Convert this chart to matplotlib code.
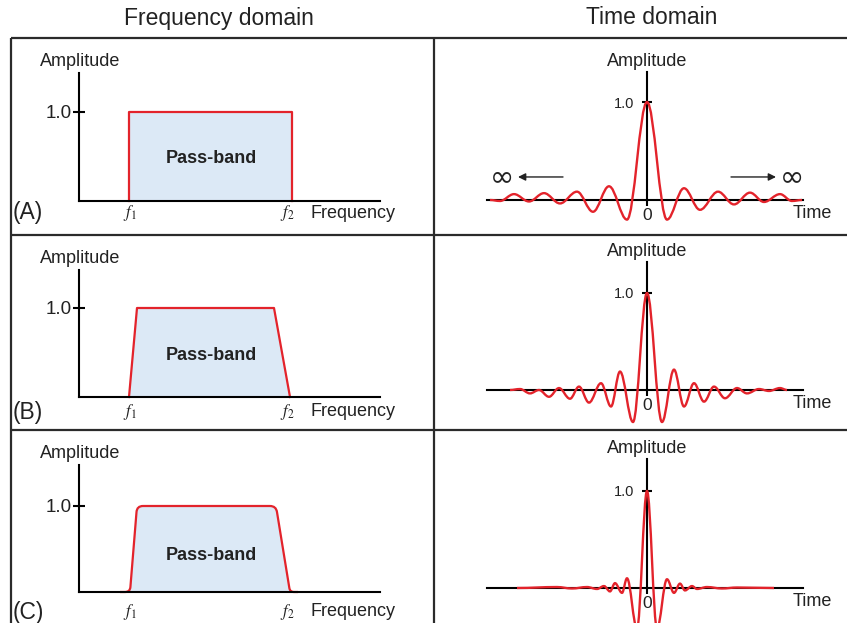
import numpy as np
import matplotlib
matplotlib.use("Agg")
import matplotlib.pyplot as plt
from matplotlib.path import Path
from matplotlib.patches import PathPatch

plt.rcParams['font.family'] = ['Liberation Sans', 'DejaVu Sans']

RED = '#e3232b'
BLUE = '#dce9f6'
INK = '#222222'
W, H = 847, 623

# pass-band shapes: frequency (f1 = 2) and amplitude at each corner
f1, f2 = 2.0, 8.5
freq_a_f = [2.0, 2.0, 8.5, 8.5]
freq_a_amp = [0, 1, 1, 0]
freq_b_f = [2.0, 2.32, 7.8, 8.44]
freq_b_amp = [0, 1, 1, 0]
freq_c_f = [1.64, 2.04, 2.32, 7.88, 8.44, 8.76]
freq_c_amp = [0, 0, 1, 1, 0, 0]

# impulse responses: time of each lobe extremum and its amplitude
time_a_t = [-15.7, -14.7, -13.3, -11.8, -10.3, -8.7, -7.0, -5.4, -3.8, -2.0, 0.0,
            2.0, 3.7, 5.3, 7.1, 8.7, 10.3, 11.7, 13.3, 14.5, 15.5]
time_a_amp = [0.0, -0.01, 0.06, -0.015, 0.07, -0.035, 0.085, -0.12, 0.14, -0.20, 1.0,
              -0.20, 0.12, -0.10, 0.085, -0.045, 0.075, -0.02, 0.06, -0.01, 0.0]

time_b_t = [-13.7, -12.7, -11.7, -10.8, -9.8, -8.8, -7.7, -6.8, -5.8, -4.6, -3.6, -2.7, -1.4, 0.0,
            1.5, 2.7, 3.7, 4.7, 5.7, 6.7, 7.8, 9.0, 10.0, 11.2, 12.2, 13.3, 14.0]
time_b_amp = [0.0, 0.01, -0.035, 0.0, -0.07, 0.02, -0.09, 0.035, -0.13, 0.07, -0.17, 0.19, -0.33, 1.0,
              -0.33, 0.21, -0.17, 0.07, -0.12, 0.035, -0.085, 0.02, -0.035, 0.01, -0.01, 0.02, 0.0]

time_c_t = [-13.0, -9.0, -7.5, -6.0, -5.0, -4.3, -3.7, -3.2, -2.5, -2.0, -1.0, 0.0,
            1.0, 2.0, 2.7, 3.3, 3.8, 4.5, 5.0, 6.0, 7.5, 9.0, 12.7]
time_c_amp = [0.0, 0.01, -0.005, 0.01, -0.01, 0.02, -0.035, 0.05, -0.05, 0.10, -0.42, 1.0,
              -0.42, 0.09, -0.05, 0.045, -0.025, 0.02, -0.01, 0.01, -0.005, 0.005, 0.0]

row_labels = ['(A)', '(B)', '(C)']

# row layout in pixels
rows = [
    dict(top=38, bottom=235, fb=201, fs=89, ftop=1.44, tb=200, ts=98, ttop=1.31, drop=12, pass_y=0.48),
    dict(top=235, bottom=430, fb=397, fs=89, ftop=1.43, tb=390, ts=97, ttop=1.32, drop=15, pass_y=0.47),
    dict(top=430, bottom=623, fb=592, fs=86, ftop=1.48, tb=588, ts=97, ttop=1.33, drop=20, pass_y=0.43),
]
F_ORIGIN, F_SCALE, F_END = 79, 25, 12.04
T_ORIGIN, T_SCALE, T_START, T_END = 647, 10, -16.0, 15.6


def lobe_path(t, a, c=0.3634):
    # cubic segments with flat tangents at every extremum
    verts = [(t[0], a[0])]
    codes = [Path.MOVETO]
    for t0, a0, t1, a1 in zip(t[:-1], a[:-1], t[1:], a[1:]):
        w = t1 - t0
        verts += [(t0 + c * w, a0), (t1 - c * w, a1), (t1, a1)]
        codes += [Path.CURVE4] * 3
    return Path(verts, codes)


def rounded_path(x, y, r, scale):
    pts = np.column_stack([x, y]).astype(float)
    s = np.array(scale, dtype=float)
    verts = [tuple(pts[0])]
    codes = [Path.MOVETO]
    for i in range(1, len(pts) - 1):
        p = pts[i]
        d_in = (pts[i - 1] - p) * s
        d_out = (pts[i + 1] - p) * s
        rr = min(r, 0.5 * np.linalg.norm(d_in), 0.5 * np.linalg.norm(d_out))
        a = p + d_in / np.linalg.norm(d_in) * rr / s
        b = p + d_out / np.linalg.norm(d_out) * rr / s
        verts += [tuple(a), tuple(p), tuple(b)]
        codes += [Path.LINETO, Path.CURVE3, Path.CURVE3]
    verts.append(tuple(pts[-1]))
    codes.append(Path.LINETO)
    return Path(verts, codes)


def panel_axes(x0, x1, y0, y1, ox, oy, sx, sy):
    ax = fig.add_axes([x0 / W, 1 - y1 / H, (x1 - x0) / W, (y1 - y0) / H], zorder=1)
    ax.set_xlim((x0 - ox) / sx, (x1 - ox) / sx)
    ax.set_ylim((oy - y1) / sy, (oy - y0) / sy)
    ax.patch.set_alpha(0)
    for s in ('top', 'right'):
        ax.spines[s].set_visible(False)
    for s in ('left', 'bottom'):
        ax.spines[s].set_position(('data', 0))
        ax.spines[s].set_linewidth(1.5)
        ax.spines[s].set_color('black')
    return ax


fig = plt.figure(figsize=(W / 100, H / 100), dpi=100)
frame = fig.add_axes([0, 0, 1, 1], zorder=0)
frame.set_xlim(0, W)
frame.set_ylim(H, 0)
frame.axis('off')

grid_kw = dict(color='#2b2b2b', lw=1.6, solid_capstyle='butt')
frame.plot([11, W], [38, 38], **grid_kw)
frame.plot([11, 11], [38, H], **grid_kw)
frame.plot([434, 434], [38, H], **grid_kw)
for y in (235, 430):
    frame.plot([11, W], [y, y], **grid_kw)
frame.text(219, 18, 'Frequency domain', fontsize=16.5, color=INK, ha='center', va='center')
frame.text(652, 18, 'Time domain', fontsize=16.5, color=INK, ha='center', va='center')

freq_shapes = [(freq_a_f, freq_a_amp), (freq_b_f, freq_b_amp), (freq_c_f, freq_c_amp)]
time_shapes = [(time_a_t, time_a_amp), (time_b_t, time_b_amp), (time_c_t, time_c_amp)]

for i, row in enumerate(rows):
    # frequency domain
    ax = panel_axes(11, 434, row['top'], row['bottom'], F_ORIGIN, row['fb'], F_SCALE, row['fs'])
    ax.spines['left'].set_bounds(0, row['ftop'])
    ax.spines['bottom'].set_bounds(0, F_END)
    ax.set_yticks([1.0], ['1.0'])
    ax.set_xticks([])
    ax.tick_params(axis='y', direction='inout', length=8, width=1.5, pad=1,
                   labelsize=13.5, labelcolor=INK)
    fx, fa = freq_shapes[i]
    if i < 2:
        ax.fill(fx, fa, color=BLUE, lw=0, zorder=1)
        ax.plot(fx, fa, color=RED, lw=1.6, zorder=2)
    else:
        shape = rounded_path(fx, fa, 6, (F_SCALE, row['fs']))
        ax.add_patch(PathPatch(shape, facecolor=BLUE, edgecolor='none', zorder=1))
        ax.add_patch(PathPatch(shape, facecolor='none', edgecolor=RED, lw=1.6, zorder=2))
    ax.text((f1 + f2) / 2 + 0.03, row['pass_y'], 'Pass-band', fontsize=13, fontweight='bold',
            color=INK, ha='center', va='center')
    ax.annotate('Amplitude', (0, row['ftop']), xytext=(-39, 11), textcoords='offset pixels',
                fontsize=13, color=INK, ha='left', va='center', annotation_clip=False)
    ax.annotate(row_labels[i], (0, 0), xytext=(-66, -row['drop']), textcoords='offset pixels',
                fontsize=16.5, color=INK, ha='left', va='center', annotation_clip=False)
    ax.annotate('$f_1$', (f1, 0), xytext=(1, -row['drop']), textcoords='offset pixels',
                fontsize=12, color=INK, math_fontfamily='stix', ha='center', va='center')
    ax.annotate('$f_2$', (f2, 0), xytext=(-4, -row['drop']), textcoords='offset pixels',
                fontsize=12, color=INK, math_fontfamily='stix', ha='center', va='center')
    ax.annotate('Frequency', (f2, 0), xytext=(19, -row['drop']), textcoords='offset pixels',
                fontsize=13, color=INK, ha='left', va='center', annotation_clip=False)

    # time domain
    ax = panel_axes(434, W, row['top'], row['bottom'], T_ORIGIN, row['tb'], T_SCALE, row['ts'])
    ax.spines['left'].set_bounds(0, row['ttop'])
    ax.spines['bottom'].set_bounds(T_START, T_END)
    ax.set_yticks([1.0], ['1.0'])
    ax.set_xticks([0], ['0'])
    ax.tick_params(axis='y', direction='inout', length=7, width=1.5, pad=5.9,
                   labelsize=10.5, labelcolor=INK)
    ax.tick_params(axis='x', direction='out', length=4, width=1.5, pad=2,
                   labelsize=12.5, labelcolor=INK)
    tt, ta = time_shapes[i]
    ax.add_patch(PathPatch(lobe_path(tt, ta), facecolor='none', edgecolor=RED, lw=1.7, zorder=3))
    ax.annotate('Amplitude', (0, row['ttop']), xytext=(0.5, 10), textcoords='offset pixels',
                fontsize=13, color=INK, ha='center', va='center', annotation_clip=False)
    ax.annotate('Time', (T_END, 0), xytext=(-10, -14), textcoords='offset pixels',
                fontsize=13, color=INK, ha='left', va='center', annotation_clip=False)

    if i == 0:
        for side in (-1, 1):
            ax.text(side * 14.5, 0.235, '\u221e', fontsize=21, color=INK, ha='center', va='center',
                    family='DejaVu Sans')
            ax.annotate('', xy=(side * 12.9, 0.235), xytext=(side * 8.4, 0.235),
                        arrowprops=dict(arrowstyle='-|>', color=INK, lw=1.0, mutation_scale=11,
                                        shrinkA=0, shrinkB=0))

fig.savefig('out.png', dpi=100)
